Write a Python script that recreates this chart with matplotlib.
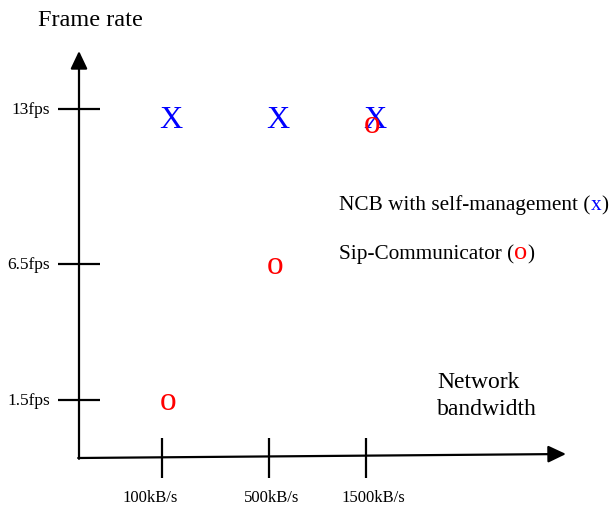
import matplotlib.pyplot as plt

plt.rcParams['font.family'] = ['Liberation Serif', 'DejaVu Serif']

# data
bandwidth = ["100kB/s", "500kB/s", "1500kB/s"]
fps_levels = [1.5, 6.5, 13]
fps_labels = ["1.5fps", "6.5fps", "13fps"]
ncb_fps = [13, 13, 13]      # NCB with self-management (x)
sip_fps = [1.5, 6.5, 13]    # Sip-Communicator (o)

# layout (pixel space of the sketch, y grows downwards)
x0, y0 = 79, 459                 # origin of the drawn axes
x_slot = [162, 269, 366]         # bandwidth tick columns
x_lab = [150, 272, 373]          # bandwidth label centres
y_slot = [401, 265, 110]         # frame-rate tick rows
ypos = dict(zip(fps_levels, y_slot))

blue = "#0000ff"
red = "#ff0000"

fig = plt.figure(figsize=(6.16, 5.06), dpi=100)
ax = fig.add_axes([0, 0, 1, 1])
ax.set_xlim(0, 616)
ax.set_ylim(506, 0)
ax.axis("off")

arrow = dict(arrowstyle="-|>,head_length=0.4,head_width=0.19", mutation_scale=27,
             lw=1.6, color="black", shrinkA=0, shrinkB=0)
ax.annotate("", xy=(x0, 52), xytext=(x0, y0 + 0.8), arrowprops=arrow)
ax.annotate("", xy=(566, 455), xytext=(x0 - 0.8, y0), arrowprops=arrow)

# ticks
ax.hlines(y_slot, x0 - 21, x0 + 21, color="black", lw=1.6)
ax.vlines(x_slot, y0 - 20, y0 + 20, color="black", lw=1.6)

for y, lab in zip(y_slot, fps_labels):
    ax.text(50, y, lab, ha="right", va="center", fontsize=12.5)
for x, lab in zip(x_lab, bandwidth):
    ax.text(x, 498, lab, ha="center", va="center", fontsize=12)

ax.text(38, 20, "Frame rate", ha="left", va="center", fontsize=17.5)
ax.text(437, 383, "Network", ha="left", va="center", fontsize=17)
ax.text(437, 410, "bandwidth", ha="left", va="center", fontsize=17)

# points
for x, v in zip(x_slot, ncb_fps):
    ax.text(x + 9, ypos[v] + 10, "X", color=blue, fontsize=23, ha="center", va="center")
for x, v, w in zip(x_slot, sip_fps, ncb_fps):
    dodge = 14 if v == w else 0
    ax.text(x + 6, ypos[v] + 1 + dodge, "o", color=red, fontsize=24, ha="center", va="center")

# legend text
t = ax.text(339, 210, "NCB with self-management (", ha="left", va="baseline", fontsize=15.3)
t = ax.annotate("x", xy=(1, 0), xycoords=t, ha="left", va="bottom", fontsize=15.3, color=blue)
ax.annotate(")", xy=(1, 0), xycoords=t, ha="left", va="bottom", fontsize=15.3)
t = ax.text(339, 259, "Sip-Communicator (", ha="left", va="baseline", fontsize=15.3)
t = ax.annotate("o", xy=(1, 0), xycoords=t, ha="left", va="bottom", fontsize=19, color=red)
ax.annotate(")", xy=(1, 0), xycoords=t, ha="left", va="bottom", fontsize=15.3)

fig.savefig("out.png", dpi=100)
